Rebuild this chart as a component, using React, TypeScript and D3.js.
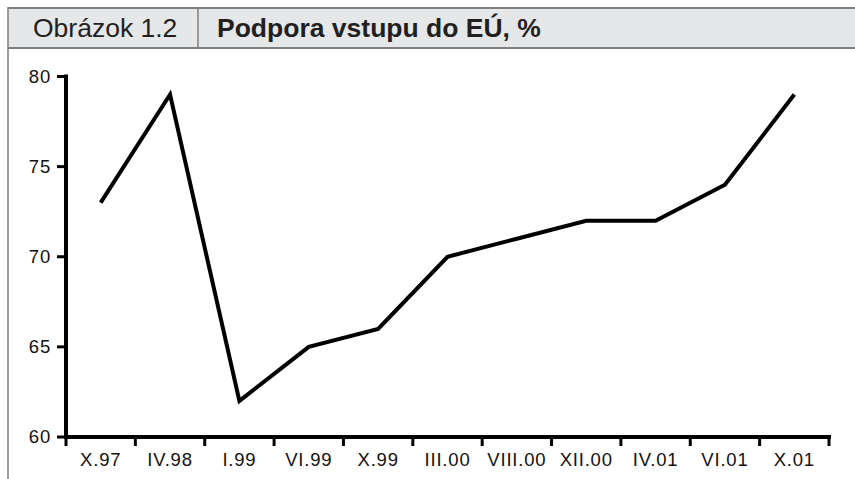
import React, { useEffect, useRef } from 'react';
import * as d3 from 'd3';

const categories = ['X.97', 'IV.98', 'I.99', 'VI.99', 'X.99', 'III.00', 'VIII.00', 'XII.00', 'IV.01', 'VI.01', 'X.01'];
const support = [73, 79, 62, 65, 66, 70, 71, 72, 72, 74, 79];
const yTicks = [60, 65, 70, 75, 80];

const W = 855;
const H = 479;

export default function App() {
  const box = useRef<SVGSVGElement>(null);

  useEffect(() => {
    const svg = d3.select(box.current);
    svg.selectAll('*').remove();
    const font = '"Liberation Sans", Arial, Helvetica, sans-serif';

    // header strip
    const head = svg.append('g');
    head.append('rect')
      .attr('x', 8).attr('y', 8).attr('width', W - 8).attr('height', 40)
      .attr('fill', '#e6e7e8');
    head.append('line')
      .attr('x1', 8).attr('x2', W).attr('y1', 8).attr('y2', 8)
      .attr('stroke', '#808080').attr('stroke-width', 2);
    head.append('line')
      .attr('x1', 8).attr('x2', W).attr('y1', 48).attr('y2', 48)
      .attr('stroke', '#808080').attr('stroke-width', 2);
    head.append('line')
      .attr('x1', 198).attr('x2', 198).attr('y1', 8).attr('y2', 48)
      .attr('stroke', '#808080').attr('stroke-width', 1.5);
    // left frame line
    svg.append('line')
      .attr('x1', 8).attr('x2', 8).attr('y1', 7).attr('y2', H)
      .attr('stroke', '#808080').attr('stroke-width', 1.5);

    head.append('text')
      .attr('x', 33).attr('y', 37)
      .attr('font-family', font).attr('font-size', 26.5)
      .attr('fill', '#231f20')
      .text('Obrázok 1.2');
    head.append('text')
      .attr('x', 217).attr('y', 37)
      .attr('font-family', font).attr('font-size', 26.5).attr('font-weight', 700)
      .attr('fill', '#231f20')
      .text('Podpora vstupu do EÚ, %');

    const x = d3.scaleBand<string>().domain(categories).range([66, 829]).padding(0);
    const y = d3.scaleLinear().domain([60, 80]).range([437, 76.5]);

    // y axis
    const yAxis = svg.append('g');
    yAxis.append('line')
      .attr('x1', 66).attr('x2', 66).attr('y1', y(80) - 2).attr('y2', y(60) + 2)
      .attr('stroke', '#000').attr('stroke-width', 4);
    yTicks.forEach(t => {
      yAxis.append('line')
        .attr('x1', 57).attr('x2', 66).attr('y1', y(t)).attr('y2', y(t))
        .attr('stroke', '#000').attr('stroke-width', 3);
      yAxis.append('text')
        .attr('x', 51).attr('y', y(t) + 6)
        .attr('text-anchor', 'end')
        .attr('font-family', font).attr('font-size', 18.5)
        .attr('letter-spacing', 0.8)
        .attr('fill', '#111')
        .text(t);
    });

    // x axis
    const xAxis = svg.append('g');
    xAxis.append('line')
      .attr('x1', 64).attr('x2', 831).attr('y1', y(60)).attr('y2', y(60))
      .attr('stroke', '#000').attr('stroke-width', 4);
    const edges = categories.map(c => x(c) as number).concat([x.range()[1]]);
    edges.forEach(e => {
      xAxis.append('line')
        .attr('x1', e).attr('x2', e).attr('y1', y(60)).attr('y2', y(60) + 9)
        .attr('stroke', '#000').attr('stroke-width', 3);
    });
    categories.forEach(c => {
      xAxis.append('text')
        .attr('x', (x(c) as number) + x.bandwidth() / 2).attr('y', 466)
        .attr('text-anchor', 'middle')
        .attr('font-family', font).attr('font-size', 18.5)
        .attr('letter-spacing', 0.8)
        .attr('fill', '#111')
        .text(c);
    });

    // series line
    const line = d3.line<number>()
      .x((d, i) => (x(categories[i]) as number) + x.bandwidth() / 2)
      .y(d => y(d));
    svg.append('path')
      .datum(support)
      .attr('d', line)
      .attr('fill', 'none')
      .attr('stroke', '#000')
      .attr('stroke-width', 4)
      .attr('stroke-linejoin', 'miter');
  }, []);

  return (
    <svg ref={box} width={W} height={H}
      style={{ position: 'absolute', left: 0, top: 0, background: '#fff' }} />
  );
}
